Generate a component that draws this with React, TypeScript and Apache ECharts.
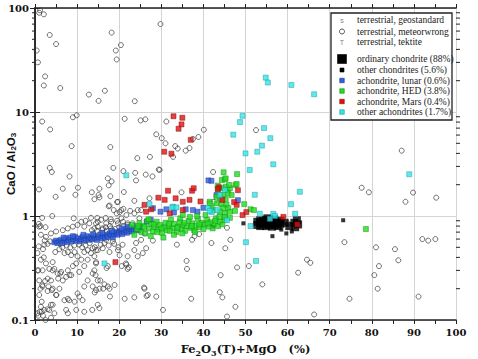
import React, { useEffect, useRef } from "react";
import * as echarts from "echarts";

const xTicks = [0, 10, 20, 30, 40, 50, 60, 70, 80, 90, 100];
const yDecades = [0.1, 1, 10, 100];
const yMinorFactors = [2, 3, 4, 5, 6, 7, 8, 9];

const legendLabels = [
  "terrestrial, geostandard",
  "terrestrial, meteorwrong",
  "terrestrial, tektite",
  "ordinary chondrite (88%)",
  "other chondrites (5.6%)",
  "achondrite, lunar (0.6%)",
  "achondrite, HED (3.8%)",
  "achondrite, Mars (0.4%)",
  "other achondrites (1.7%)",
];

const geostandard = [
  [1.3, 20], [8.2, 20], [21.2, 68], [7.6, 7.2], [0.8, 3.9], [7.4, 1.26], [44.4, 12.4], [45.5, 10.4],
  [45.5, 8.6], [57.9, 10.3], [76.3, 6.6], [34.5, 2.42], [35.6, 2.3], [50.8, 1.58], [48.8, 0.7],
  [52.5, 0.69], [41.5, 0.42], [43.5, 0.44], [46.0, 0.28], [47.9, 0.15], [58.3, 0.32],
  [60.5, 0.95], [30.6, 1.14], [8.9, 0.103], [12.0, 0.11], [8.2, 0.45], [1.0, 0.82],
];

const tektite = [[6.3, 0.106], [8.7, 0.124], [10.0, 0.13]];

const meteorwrong = [
  [1.2, 95], [1.0, 90], [2.1, 87], [3.5, 55], [5.0, 45], [0.4, 39], [0.7, 30], [2.4, 22], [2.1, 18], [6.0, 17],
  [12.8, 14.7], [15.1, 12.8], [16.6, 16], [18.2, 58], [20.4, 44], [19.2, 39], [19.4, 32], [23.7, 12.7], [29.8, 70],
  [1.7, 8.1], [3.6, 6.8], [9.0, 8.9], [9.9, 9.3], [8.7, 4.7], [3.5, 2.9], [4.0, 2.65], [8.2, 2.4], [17.9, 4.6],
  [18.6, 2.9], [21.3, 8.6], [25.1, 8.3], [26.2, 8.5], [28.8, 6.1], [24.3, 3.6], [27.3, 3.7], [21.0, 2.7], [23.8, 2.6],
  [26.3, 2.5], [27.9, 2.4], [29.4, 2.8], [17.3, 2.3], [24.0, 2.2], [18.2, 2.15], [17.5, 1.97], [0.95, 1.8], [6.6, 1.83],
  [10.2, 1.87], [13.5, 1.69], [15.3, 1.83], [9.6, 1.6], [4.9, 1.53], [14.1, 1.45], [15.3, 1.51], [17.9, 1.55],
  [21.1, 1.7], [19.5, 1.36], [23.6, 1.4], [17.5, 1.24], [18.7, 1.14], [21.0, 1.17], [19.4, 1.06], [20.1, 1.09],
  [22.6, 1.12], [25.2, 1.14], [15.1, 1.59], [17.7, 1.26], [19.7, 1.37], [20.5, 1.14], [21.7, 1.02], [23.6, 1.06], [24.4, 1.14],
  [1.7, 0.96], [4.1, 1.0], [9.2, 0.95], [13.3, 0.96], [14.8, 0.96], [16.8, 0.96], [18.0, 0.93], [24.8, 0.95], [15.7, 0.92],
  [16.9, 0.85], [18.1, 0.88], [19.7, 0.85], [20.9, 0.88], [22.0, 0.82], [23.2, 0.85], [14.9, 0.79], [16.1, 0.76],
  [14.5, 0.85], [24.8, 0.73], [26.0, 0.68], [10.1, 0.82], [9.0, 0.79], [7.8, 0.76], [6.6, 0.73], [5.0, 0.71], [3.8, 0.68],
  [2.6, 0.63], [1.4, 0.66], [11.7, 0.79], [12.9, 0.85], [14.1, 0.76], [14.9, 0.88], [0.9, 0.84], [1.3, 0.8], [2.5, 0.78],
  [1.0, 0.79], [13.5, 0.73], [14.7, 0.72], [16.0, 0.74], [17.0, 0.72], [18.0, 0.76], [19.0, 0.75], [16.8, 0.78],
  [17.8, 0.8], [18.7, 0.7], [20.0, 0.78], [21.0, 0.8], [22.0, 0.85], [21.5, 0.75], [22.5, 0.78], [23.5, 0.8], [19.5, 0.9],
  [20.5, 0.95], [12.0, 0.9], [11.0, 0.88],
  [2.3, 0.58], [0.9, 0.51], [1.9, 0.48], [2.1, 0.4], [0.8, 0.3], [3.4, 0.31], [4.2, 0.3], [2.4, 0.237], [1.7, 0.216],
  [1.3, 0.2], [3.2, 0.21], [4.0, 0.194], [5.1, 0.174], [1.0, 0.174], [1.6, 0.15], [3.8, 0.14], [3.0, 0.127], [1.6, 0.12],
  [1.1, 0.12], [0.8, 0.11], [1.9, 0.11], [3.8, 0.105], [2.5, 0.1], [13.6, 0.125], [15.3, 0.13], [8.1, 0.155],
  [10.5, 0.168], [14.2, 0.184], [17.8, 0.168], [16.2, 0.2], [17.3, 0.21], [21.3, 0.16], [23.6, 0.165], [25.9, 0.205],
  [26.5, 0.17], [24.4, 0.41], [21.6, 0.35], [22.3, 0.32], [20.6, 0.33], [17.0, 0.316], [14.4, 0.27], [15.5, 0.24],
  [8.2, 0.27], [6.0, 0.28], [3.0, 0.54], [3.6, 0.57], [2.2, 0.53], [4.8, 0.45], [5.8, 0.48], [7.0, 0.44], [7.8, 0.45],
  [8.6, 0.42], [9.4, 0.45], [10.1, 0.41], [4.2, 0.36], [4.6, 0.31], [5.4, 0.28], [6.2, 0.29], [5.5, 0.25], [6.6, 0.24],
  [7.4, 0.26], [7.8, 0.3], [8.6, 0.27], [9.0, 0.33], [9.8, 0.35], [11.0, 0.38], [11.7, 0.33], [10.5, 0.29], [12.5, 0.38],
  [13.3, 0.44], [14.1, 0.41], [14.5, 0.35], [13.7, 0.49], [14.5, 0.47], [12.5, 0.47], [11.7, 0.45], [0.6, 0.3],
  [1.8, 0.21], [3.0, 0.19], [4.2, 0.2], [5.0, 0.174], [5.8, 0.2], [7.0, 0.155], [7.8, 0.16], [9.4, 0.15], [11.3, 0.155],
  [9.8, 0.125], [7.4, 0.125], [1.4, 0.134], [2.2, 0.125], [3.4, 0.125], [4.2, 0.14], [0.6, 0.116], [4.6, 0.116],
  [7.8, 0.116], [11.7, 0.12], [13.7, 0.21], [12.5, 0.24], [11.7, 0.21], [10.1, 0.18], [14.1, 0.3], [13.7, 0.28],
  [14.9, 0.24], [3.0, 0.25], [3.8, 0.24], [1.0, 0.24], [1.8, 0.3], [2.6, 0.35], [1.4, 0.38], [0.6, 0.44], [11.7, 0.59],
  [12.9, 0.61], [14.9, 0.47], [16.1, 0.49], [17.7, 0.45], [19.7, 0.47], [20.1, 0.42], [22.0, 0.41], [23.6, 0.47],
  [14.5, 0.36], [17.3, 0.33], [22.0, 0.31], [21.7, 0.34], [16.5, 0.22], [17.7, 0.2], [15.3, 0.2], [26.0, 0.2],
  [26.8, 0.174], [18.9, 0.217], [14.5, 0.194], [14.9, 0.14], [24.0, 0.55], [25.2, 0.59], [16.9, 0.59], [18.5, 0.57],
  [25.6, 0.44], [26.4, 0.49], [12.0, 0.52], [13.0, 0.55], [14.2, 0.5], [15.6, 0.53], [16.5, 0.55], [17.5, 0.52],
  [18.8, 0.54], [19.8, 0.5], [20.8, 0.53], [11.2, 0.5], [10.5, 0.53], [9.3, 0.52], [8.4, 0.5], [7.5, 0.52], [6.5, 0.5],
  [6.0, 0.54],
  [31.2, 8.1], [30.1, 5.6], [31.0, 5.0], [33.3, 4.7], [33.9, 4.45], [35.8, 4.25], [36.7, 4.5], [37.5, 5.5], [38.8, 5.75],
  [40.1, 6.75], [52.5, 6.7], [32.8, 3.7], [29.6, 2.77], [42.3, 2.65], [34.8, 1.69], [27.2, 1.48], [42.5, 1.37],
  [28.0, 0.58], [33.7, 0.53], [37.3, 0.59], [37.9, 0.64], [39.0, 0.67], [41.9, 0.55], [36.0, 0.37], [36.1, 0.31],
  [28.8, 0.168], [30.4, 0.125], [37.1, 0.16], [43.9, 0.185], [44.5, 0.165], [44.1, 0.27], [45.2, 0.49], [46.4, 0.59],
  [45.6, 0.77], [48.0, 0.32], [47.6, 0.134], [45.6, 0.108], [50.8, 0.33], [54.0, 0.22], [60.1, 0.85], [64.6, 0.38],
  [65.4, 0.355], [62.5, 0.285], [66.3, 0.113], [73.5, 0.56], [81.0, 0.5], [85.5, 0.48], [86.3, 0.375], [81.7, 0.33],
  [80.6, 0.27], [81.4, 0.2], [74.7, 0.16], [91.1, 0.168], [92.0, 0.6], [93.4, 0.58], [95.1, 0.6], [88.0, 1.37],
  [87.1, 4.25], [77.6, 1.87], [79.3, 1.69], [89.8, 1.68], [95.3, 1.5],
];

const ordinaryChondrite = [
  [52.8, 0.82], [52.8, 0.88], [53.5, 0.8], [53.5, 0.86], [53.5, 0.91], [54.2, 0.83], [54.2, 0.89], [54.9, 0.8],
  [54.9, 0.86], [54.9, 0.92], [55.6, 0.82], [55.6, 0.88], [56.3, 0.79], [56.3, 0.85], [56.3, 0.91], [57.0, 0.82],
  [57.0, 0.88], [57.7, 0.8], [57.7, 0.86], [58.3, 0.84], [58.3, 0.9], [55.2, 0.95], [56.8, 0.93], [60.4, 0.8],
  [61.6, 0.86], [62.2, 0.91], [62.5, 0.83], [61.8, 0.78], [59.3, 0.86],
];

const otherChondrites = [
  [49.5, 0.85], [56.4, 0.64], [58.5, 0.74], [59.7, 0.68], [61.0, 0.71], [73.2, 0.91], [42.3, 0.79],
];

const lunar = [
  [4.6, 0.56], [5.0, 0.58], [5.3, 0.55], [5.8, 0.57], [6.2, 0.59], [6.5, 0.55], [7.0, 0.58], [7.3, 0.61], [7.6, 0.56],
  [8.0, 0.59], [8.4, 0.62], [8.7, 0.57], [9.1, 0.6], [9.5, 0.63], [9.8, 0.58], [10.2, 0.61], [10.6, 0.57], [11.0, 0.6],
  [11.3, 0.63], [11.7, 0.58], [12.1, 0.61], [12.5, 0.64], [12.8, 0.59], [13.2, 0.62], [13.6, 0.6], [14.0, 0.64],
  [14.3, 0.61], [14.7, 0.59], [15.1, 0.63], [15.5, 0.66], [15.8, 0.61], [16.2, 0.64], [16.6, 0.62], [17.0, 0.66],
  [17.3, 0.63], [17.7, 0.68], [18.1, 0.65], [18.5, 0.62], [18.8, 0.67], [19.2, 0.7], [19.6, 0.66], [20.0, 0.69],
  [20.4, 0.72], [20.7, 0.67], [21.1, 0.7], [21.5, 0.73], [21.9, 0.69], [22.3, 0.72], [22.7, 0.75], [23.1, 0.71],
  [23.5, 0.74], [24.0, 0.77], [24.5, 0.73], [25.0, 0.78], [6.8, 0.62], [9.0, 0.64], [11.5, 0.66], [13.8, 0.67],
  [16.0, 0.69], [18.3, 0.72], [20.6, 0.76], [22.0, 0.79],
  [28.0, 1.19], [29.8, 1.1], [31.2, 1.16], [35.8, 1.16], [37.5, 1.14], [38.6, 1.1], [41.2, 2.2], [41.9, 2.18],
  [43.1, 1.59], [48.2, 1.42], [26.5, 0.88], [27.5, 0.92], [33.0, 1.08], [40.0, 1.2],
];

const hed = [
  [23.0, 0.82], [23.6, 0.66], [24.2, 0.75], [24.8, 0.86], [25.3, 0.7], [25.8, 0.8], [26.2, 0.68], [26.7, 0.9],
  [27.1, 0.76], [27.6, 0.84], [28.0, 0.71], [28.4, 0.79], [28.9, 0.88], [29.3, 0.74], [29.7, 0.82], [30.2, 0.69],
  [30.6, 0.78], [31.0, 0.86], [31.4, 0.73], [31.9, 0.8], [32.3, 0.92], [32.7, 0.76], [33.1, 0.84], [33.6, 0.7],
  [34.0, 0.79], [34.4, 0.88], [34.8, 0.75], [35.3, 0.82], [35.7, 0.72], [36.1, 0.8], [36.5, 0.9], [37.0, 0.77],
  [37.4, 0.85], [37.8, 0.73], [38.3, 0.81], [38.7, 0.94], [39.1, 0.78], [39.6, 0.86], [40.0, 0.75], [40.4, 0.83],
  [40.9, 0.92], [41.3, 0.79], [41.7, 0.87], [42.2, 0.76], [42.6, 0.84], [43.0, 0.95], [43.5, 0.8], [44.0, 0.88],
  [44.5, 0.83], [45.0, 0.92], [26.0, 0.78], [28.2, 0.83], [30.0, 0.76], [31.8, 0.84], [33.8, 0.77], [35.5, 0.86],
  [37.2, 0.8], [39.0, 0.83], [41.0, 0.85], [42.8, 0.9], [29.0, 0.7], [32.0, 0.72], [35.0, 0.68], [38.0, 0.7],
  [24.5, 0.8], [27.0, 0.93], [34.5, 0.95], [36.8, 0.98], [43.8, 0.98], [33.0, 0.66], [30.5, 0.62], [27.5, 0.64],
  [38.5, 1.0], [40.5, 1.02], [35.1, 1.02], [42.3, 1.14],
  [44.8, 2.63], [48.0, 2.53], [44.4, 2.22], [45.1, 2.25], [43.4, 1.96], [45.3, 1.91], [45.7, 1.78], [46.3, 1.85],
  [47.6, 1.99], [45.9, 1.65], [44.7, 1.59], [46.7, 1.59], [43.9, 1.48], [45.3, 1.45], [43.1, 1.32], [44.3, 1.3],
  [45.5, 1.28], [44.7, 1.19], [45.9, 1.19], [43.9, 1.1], [45.1, 1.06], [46.3, 1.1], [47.5, 1.12], [41.5, 1.37],
  [41.9, 1.19], [49.7, 1.3], [51.2, 1.16], [52.0, 1.14], [45.1, 0.98], [46.3, 0.96], [41.5, 1.32], [43.1, 1.53],
  [43.5, 1.78], [44.3, 1.85], [46.1, 1.99], [47.9, 2.03], [45.3, 2.3], [78.6, 0.75],
];

const mars = [
  [32.9, 9.1], [35.0, 8.8], [34.8, 7.6], [34.1, 6.9], [37.0, 5.4], [30.7, 4.15], [32.4, 3.97], [31.6, 1.75],
  [37.3, 1.75], [37.7, 1.85], [29.3, 1.5], [30.8, 1.43], [39.3, 1.38], [36.7, 1.43], [27.6, 1.16], [35.1, 1.14],
  [19.1, 0.36], [26.0, 1.28], [26.4, 1.1], [49.3, 1.02], [50.2, 1.09], [59.0, 0.98], [62.3, 0.83], [43.7, 1.89],
  [32.0, 1.06], [33.4, 1.48], [35.1, 1.37], [48.2, 1.77], [43.4, 1.82], [44.5, 1.43], [47.3, 1.36], [47.9, 1.28],
];

const otherAchondrites = [
  [54.8, 21.4], [55.3, 19.2], [60.9, 18.2], [66.3, 14.8], [49.3, 9.2], [48.7, 8.0], [54.4, 7.0], [55.9, 5.6],
  [47.1, 6.05], [53.9, 4.75], [50.0, 4.0], [52.8, 4.15], [56.6, 3.14], [51.0, 2.77], [52.2, 1.6], [45.1, 1.78],
  [43.9, 1.59], [62.9, 1.71], [60.8, 1.3], [61.8, 1.05], [53.4, 1.05], [56.6, 1.05], [57.0, 1.0], [55.8, 0.94],
  [51.2, 0.8], [50.1, 0.56], [52.5, 0.37], [45.6, 0.91], [42.0, 1.09], [41.1, 1.19], [32.8, 1.23], [27.2, 1.3],
  [16.5, 0.35], [21.7, 2.46], [88.9, 2.52], [32.6, 1.21], [33.6, 1.21], [41.5, 1.12], [43.3, 1.14],
];

const SERIF = '"DejaVu Serif", serif';
const LEG_FONT = '"Liberation Serif", serif';

const sq = (color: string, border: string) => ({ color, borderColor: border, borderWidth: 0.6 });
const BLUE = ["#2f5fe0", "#1a3590"];
const GREEN = ["#22dd22", "#129012"];
const RED = ["#e01010", "#8a0a0a"];
const CYAN = ["#35e3e8", "#1a9aa0"];

export default function App() {
  const ref = useRef<HTMLDivElement>(null);
  useEffect(() => {
    if (!ref.current) return;
    const chart = echarts.init(ref.current, null, { renderer: "svg" });
    const textMark = (name: string, data: number[][], ch: string) => ({
      name,
      type: "scatter",
      data,
      symbol: "circle",
      symbolSize: 1,
      itemStyle: { opacity: 0 },
      label: { show: true, position: "inside", formatter: ch, color: "#808080", fontSize: 7, fontFamily: "Liberation Sans, sans-serif" },
      emphasis: { disabled: true },
      silent: true,
      z: 2,
    });
    const squares = (name: string, data: number[][], size: number, style: any, z: number) => ({
      name, type: "scatter", data, symbol: "rect", symbolSize: size, itemStyle: style, silent: true, z,
    });
    const option: any = {
      animation: false,
      backgroundColor: "#ffffff",
      grid: { left: 35, right: 22, top: 8, bottom: 39, containLabel: false, outerBoundsMode: "none" },
      xAxis: [
        {
          type: "value", min: xTicks[0], max: xTicks[xTicks.length - 1], interval: 10,
          axisLine: { show: true, lineStyle: { color: "#222", width: 1.5 } },
          axisTick: { show: true, length: 4, lineStyle: { color: "#222" } },
          minorTick: { show: true, splitNumber: 2, length: 4, lineStyle: { color: "#222" } },
          axisLabel: { color: "#111", fontFamily: SERIF, fontWeight: "bold", fontSize: 10, margin: 7 },
          splitLine: { show: true, lineStyle: { color: "#d4d4d4", width: 1 } },
          name: "{b|Fe}{s|2}{b|O}{s|3}{b|(T)+MgO   (%)}",
          nameLocation: "middle",
          nameGap: 20,
          nameTextStyle: {
            rich: {
              b: { fontFamily: SERIF, fontWeight: "bold", fontSize: 11.5, color: "#111", lineHeight: 14 },
              s: { fontFamily: SERIF, fontWeight: "bold", fontSize: 8, color: "#111", lineHeight: 8, padding: [7, 0, 0, 0] },
            },
          },
        },
        {
          type: "value", position: "top", min: xTicks[0], max: xTicks[xTicks.length - 1], interval: 10,
          axisLine: { show: true, lineStyle: { color: "#222", width: 1.5 } },
          axisTick: { show: true, length: 4, lineStyle: { color: "#222" } },
          minorTick: { show: true, splitNumber: 2, length: 4, lineStyle: { color: "#222" } },
          axisLabel: { show: false },
          splitLine: { show: false },
        },
      ],
      yAxis: [
        {
          type: "log", logBase: 10, min: yDecades[0], max: yDecades[yDecades.length - 1],
          axisLine: { show: true, lineStyle: { color: "#222", width: 1.5 } },
          axisTick: { show: true, length: 5, lineStyle: { color: "#222" } },
          axisLabel: {
            color: "#111", fontFamily: SERIF, fontWeight: "bold", fontSize: 10, margin: 6,
            formatter: (v: number) => (v >= 1 ? String(Math.round(v)) : String(Math.round(v * 10) / 10)),
          },
          splitLine: { show: true, lineStyle: { color: "#d4d4d4", width: 1 } },
          name: "{b|CaO / Al}{s|2}{b|O}{s|3}",
          nameLocation: "middle",
          nameRotate: 90,
          nameGap: 18,
          nameMoveOverlap: false,
          nameTextStyle: {
            rich: {
              b: { fontFamily: "Liberation Sans, Arial, sans-serif", fontWeight: "bold", fontSize: 11.5, color: "#111", lineHeight: 13 },
              s: { fontFamily: "Liberation Sans, Arial, sans-serif", fontWeight: "bold", fontSize: 8, color: "#111", lineHeight: 8, padding: [6, 0, 0, 0] },
            },
          },
        },
        {
          type: "log", logBase: 10, position: "right", min: yDecades[0], max: yDecades[yDecades.length - 1],
          axisLine: { show: true, lineStyle: { color: "#222", width: 1.5 } },
          axisTick: { show: true, length: 5, lineStyle: { color: "#222" } },
          axisLabel: { show: false },
          splitLine: { show: false },
        },
      ],
      series: [
        {
          name: legendLabels[1], type: "scatter", data: meteorwrong, symbol: "circle", symbolSize: 5,
          itemStyle: { color: "rgba(0,0,0,0)", borderColor: "#3a3a3a", borderWidth: 0.9 }, silent: true, z: 2,
        },
        textMark(legendLabels[0], geostandard, "s"),
        textMark(legendLabels[2], tektite, "T"),
        squares(legendLabels[3], ordinaryChondrite, 8, { color: "#000" }, 3),
        squares(legendLabels[4], otherChondrites, 4, { color: "#000" }, 3),
        squares(legendLabels[5], lunar, 5, sq(BLUE[0], BLUE[1]), 4),
        squares(legendLabels[6], hed, 5, sq(GREEN[0], GREEN[1]), 4),
        squares(legendLabels[7], mars, 5, sq(RED[0], RED[1]), 5),
        squares(legendLabels[8], otherAchondrites, 5, sq(CYAN[0], CYAN[1]), 5),
      ],
    };
    chart.setOption(option);

    const elements: any[] = [];
    const xl = chart.convertToPixel({ xAxisIndex: 0 }, xTicks[0]) as number;
    const xr = chart.convertToPixel({ xAxisIndex: 0 }, xTicks[xTicks.length - 1]) as number;
    yDecades.slice(0, -1).forEach((d) => {
      yMinorFactors.forEach((k) => {
        const py = chart.convertToPixel({ yAxisIndex: 0 }, d * k) as number;
        elements.push({ type: "line", silent: true, shape: { x1: xl - 3, y1: py, x2: xl, y2: py }, style: { stroke: "#222", lineWidth: 1 } });
        elements.push({ type: "line", silent: true, shape: { x1: xr, y1: py, x2: xr + 4, y2: py }, style: { stroke: "#222", lineWidth: 1 } });
      });
    });

    // legend
    const lx = 331, ly = 13, lw = 121, lh = 107;
    elements.push({ type: "rect", silent: true, z: 10, shape: { x: lx, y: ly, width: lw, height: lh }, style: { fill: "#fff", stroke: "#222", lineWidth: 1.3 } });
    const rows = [20, 31.5, 42, 59, 70, 80.5, 91, 101.5, 112];
    const mx = 342, tx = 357;
    rows.forEach((ry, i) => {
      elements.push({
        type: "text", silent: true, z: 11,
        style: { text: legendLabels[i], x: tx, y: ry, fill: "#222", font: `9.5px ${LEG_FONT}`, align: "left", verticalAlign: "middle", textAlign: "left", textVerticalAlign: "middle" },
      });
    });
    const letter = (ch: string, y: number) => ({
      type: "text", silent: true, z: 11,
      style: { text: ch, x: mx, y, fill: "#808080", font: "7px Liberation Sans, sans-serif", align: "center", verticalAlign: "middle", textAlign: "center", textVerticalAlign: "middle" },
    });
    elements.push(letter("s", rows[0]));
    elements.push({ type: "circle", silent: true, z: 11, shape: { cx: mx, cy: rows[1], r: 2.5 }, style: { fill: "none", stroke: "#3a3a3a", lineWidth: 0.9 } });
    elements.push(letter("T", rows[2]));
    const box = (y: number, s: number, fill: string, stroke?: string) => ({
      type: "rect", silent: true, z: 11, shape: { x: mx - s / 2, y: y - s / 2, width: s, height: s },
      style: { fill, stroke: stroke || fill, lineWidth: 0.6 },
    });
    elements.push(box(rows[3], 9, "#000"));
    elements.push(box(rows[4], 4, "#000"));
    elements.push(box(rows[5], 4.5, BLUE[0], BLUE[1]));
    elements.push(box(rows[6], 4.5, GREEN[0], GREEN[1]));
    elements.push(box(rows[7], 4.5, RED[0], RED[1]));
    elements.push(box(rows[8], 4.5, CYAN[0], CYAN[1]));

    chart.setOption({ graphic: { elements } });
    return () => chart.dispose();
  }, []);
  return <div ref={ref} style={{ position: "absolute", left: 0, top: 0, width: 478, height: 359, background: "#fff" }} />;
}
